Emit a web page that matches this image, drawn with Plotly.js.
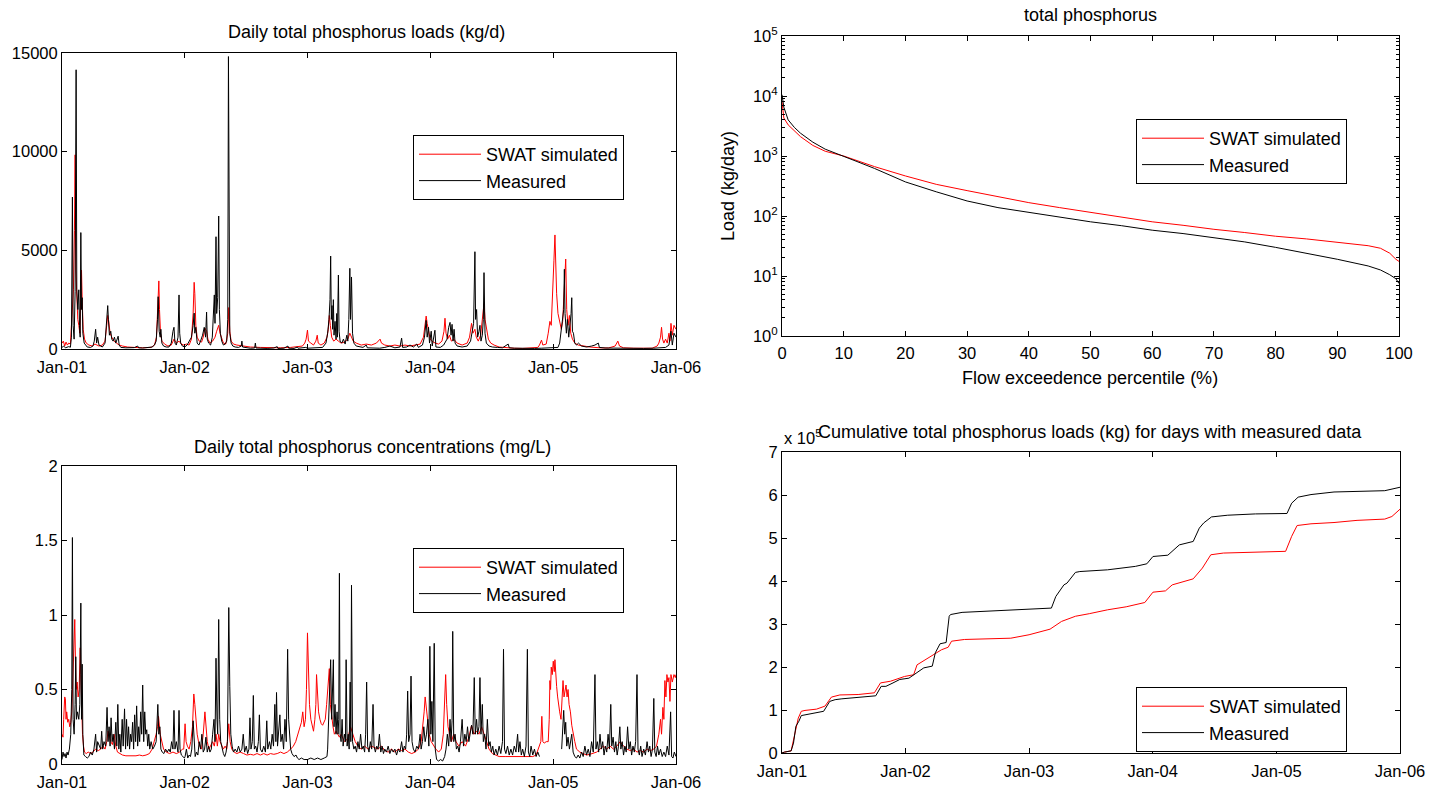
<!DOCTYPE html>
<html>
<head>
<meta charset="utf-8">
<script src="https://cdn.plot.ly/plotly-3.0.1.min.js"></script>
<style>html,body{margin:0;padding:0;background:#fff;}#chart{width:1434px;height:793px;}</style>
</head>
<body>
<div id="chart"></div>
<script>
// ---------------- DATA ----------------
// Day offsets are days since 2001-01-01.
const yearTicks = ['2001-01-01','2002-01-01','2003-01-01','2004-01-01','2005-01-01','2006-01-01'];
const yearLabels = ['Jan-01','Jan-02','Jan-03','Jan-04','Jan-05','Jan-06'];
const seriesNames = ['SWAT simulated','Measured'];

// Daily total phosphorus loads (kg/d), [day, value]
const loadSimulated = [[0,300],[4,400],[8,150],[12,350],[16,200],[20,300],[25,250],[30,1500],[34,3000],[37,6000],[39,9840],[41,4000],[44,2000],[47,1500],[50,1200],[53,800],[56,2800],[58,4000],[60,2500],[63,1000],[67,500],[72,300],[80,200],[90,150],[98,250],[104,200],[110,150],[120,200],[128,400],[133,1200],[136,1700],[139,1400],[143,800],[148,600],[155,400],[162,300],[170,200],[180,150],[195,100],[215,80],[240,60],[265,80],[275,200],[281,600],[285,2000],[288,3450],[290,2000],[293,800],[297,400],[305,250],[315,150],[325,200],[333,500],[340,300],[348,400],[355,250],[362,200],
[370,250],[378,200],[385,500],[390,1800],[393,3380],[395,2800],[398,1200],[402,600],[408,400],[415,350],[420,600],[425,1060],[430,900],[434,500],[440,300],[448,400],[455,600],[460,900],[466,1200],[470,800],[475,500],[480,300],[487,250],[493,800],[496,2100],[499,900],[503,400],[510,250],[520,200],[535,150],[560,100],[590,80],[620,60],[650,60],[680,80],[700,100],[715,150],[722,300],
[726,500],[730,960],[733,400],[740,300],[748,200],[755,400],[759,700],[762,300],[770,200],[780,300],[788,600],[792,1000],[795,1700],[798,1200],[802,600],[808,400],[815,500],[822,400],[830,300],[840,350],[850,500],[856,800],[860,600],[866,400],[875,300],[890,200],[905,250],[920,200],[935,300],[943,450],[946,500],[950,300],[960,200],[975,150],[990,200],[1005,150],[1020,200],[1035,150],[1050,200],[1065,250],[1075,600],
[1080,1200],[1083,1670],[1086,1300],[1090,900],[1095,500],[1100,400],[1110,300],[1120,250],[1130,400],[1136,900],[1139,1560],[1142,800],[1147,500],[1152,700],[1158,400],[1165,500],[1175,300],[1190,200],[1205,300],[1212,600],[1218,1300],[1222,800],[1228,1000],[1232,600],[1238,400],[1245,700],[1250,1500],[1255,2300],[1258,1500],[1263,1000],[1268,500],[1275,300],[1285,200],[1300,100],[1320,60],[1345,40],[1370,30],[1395,40],[1415,80],[1420,200],[1426,450],[1430,200],[1440,250],[1446,800],[1451,1400],[1455,1200],[1459,2500],[1463,4500],[1466,5780],[1469,3500],[1471,2800],[1475,1800],[1481,1200],[1485,1000],[1489,1400],[1492,2500],[1495,3500],[1498,4560],[1501,2000],[1505,1200],[1509,1700],[1513,800],[1518,500],[1525,300],[1535,200],[1550,150],[1570,100],[1600,60],[1625,50],[1645,150],[1653,400],[1658,150],[1670,60],[1700,40],[1730,30],[1755,40],[1770,150],[1775,300],[1780,600],[1783,1100],[1786,500],[1790,300],[1795,500],[1800,300],[1805,800],[1808,400],[1811,1300],[1815,700],[1820,1200],[1826,1000]];

const loadMeasured = [[0,80],[5,150],[10,60],[15,100],[20,120],[25,90],[28,600],[31,7700],[33,1200],[36,500],[39,2900],[42,14150],[44,3000],[47,2000],[50,3000],[52,1200],[54,600],[56,5900],[58,2000],[60,2600],[62,800],[66,300],[70,200],[75,100],[85,80],[92,150],[96,400],[100,1000],[103,300],[106,600],[110,200],[115,150],[120,100],[128,300],[133,1800],[136,2200],[138,1500],[141,700],[145,900],[148,500],[152,400],[156,600],[160,300],[163,500],[167,650],[170,200],[175,80],[190,60],[200,50],[215,70],[225,150],[228,60],[240,50],[255,80],[262,60],[268,100],[275,200],[280,400],[284,1500],[286,2650],[289,900],[292,600],[294,1000],[297,300],[302,150],[310,100],[318,100],[325,300],[330,900],[333,1100],[336,300],[340,200],[345,600],[348,2740],[350,800],[353,300],[358,150],[362,100],
[365,100],[372,200],[378,400],[385,600],[390,1200],[393,1820],[395,800],[398,1100],[402,300],[407,200],[412,400],[418,700],[423,1100],[427,600],[430,1870],[432,500],[436,300],[442,200],[447,600],[450,1400],[453,2740],[455,1300],[458,5690],[460,1800],[463,2600],[466,6740],[468,2000],[471,800],[475,400],[480,200],[485,250],[490,400],[493,1500],[495,14820],[497,3000],[499,800],[503,300],[508,150],[515,100],[525,80],[533,150],[535,400],[537,100],[550,60],[560,40],[573,50],[575,300],[577,50],[590,40],[610,30],[630,50],[640,120],[642,30],[660,40],[672,150],[674,40],[690,30],[700,100],[702,40],[715,50],[725,80],
[730,40],[745,50],[760,60],[775,80],[785,300],[790,800],[794,1500],[797,2500],[799,4710],[801,1500],[803,2200],[805,1000],[807,2500],[809,700],[812,1400],[815,500],[817,1800],[819,600],[822,3750],[824,900],[827,400],[832,300],[837,500],[842,250],[847,700],[850,400],[853,1500],[856,4090],[858,1500],[861,3650],[864,800],[868,300],[875,150],[885,100],[895,80],[905,200],[908,60],[925,50],[945,40],[960,80],[975,150],[990,60],[1005,100],[1010,550],[1013,80],[1025,100],[1035,200],[1045,100],[1055,250],[1060,80],[1072,200],[1078,600],[1083,1450],[1086,600],[1090,1100],[1093,300],[1098,900],[1101,150],[1109,950],[1112,100],[1125,80],[1135,200],[1145,500],[1150,1100],[1154,1350],[1157,700],[1160,1250],[1163,400],[1166,1000],[1169,300],[1175,150],[1190,100],[1205,150],[1215,400],[1220,900],[1224,1300],[1228,4930],[1230,1500],[1233,2000],[1236,600],[1240,900],[1243,1200],[1246,400],[1250,700],[1253,1500],[1255,3870],[1258,800],[1262,300],[1270,150],[1280,100],[1295,80],[1310,60],[1327,250],[1330,60],[1345,40],[1365,30],[1385,40],[1405,30],[1425,40],[1440,50],[1460,60],[1475,80],[1480,300],[1485,900],[1489,1500],[1492,2000],[1494,4040],[1496,1800],[1500,800],[1503,1500],[1507,600],[1511,1200],[1514,1800],[1516,2600],[1518,900],[1521,800],[1525,300],[1530,200],[1536,300],[1545,150],[1560,100],[1575,150],[1585,200],[1595,300],[1598,80],[1615,50],[1635,40],[1650,60],[1665,40],[1690,30],[1710,30],[1730,30],[1760,40],[1785,50],[1795,80],[1805,200],[1811,900],[1815,200],[1820,800],[1826,600]];

// Flow exceedence (load duration) curves: percentile (%) and load (kg/day)
const exceedPct = [0,0.3,1,2,3,5,7,10,12,15,20,25,30,35,40,45,50,55,60,65,70,75,80,85,90,95,97,98.5,99.5,100];
const durSimulated = [8000,4300,3300,2600,2100,1500,1200,1000,850,665,465,337,265,210,167,138,114,95,80,70,60,53,46,41.5,36.5,32,29,24,19,17.5];
const durMeasured = [10500,6500,4000,3000,2400,1700,1300,1000,820,620,370,253,178,138,114,95,80,69,58,51,43.6,37,30,24,19,14.7,12.6,10.5,9,7.5];
const logTickVals = [1,10,100,1000,10000,100000];
const logTickText = ['10<sup>0</sup>','10<sup>1</sup>','10<sup>2</sup>','10<sup>3</sup>','10<sup>4</sup>','10<sup>5</sup>'];

// Daily total phosphorus concentrations (mg/L), [day, value]
const concSimulated = [[0,0.2],[3,0.18],[5,0.3],[8,0.45],[10,0.44],[12,0.3],[14,0.35],[17,0.28],[20,0.3],[23,0.25],[26,0.28],[29,0.35],[32,0.6],[35,0.8],[38,0.97],[40,0.7],[42,0.5],[45,0.55],[48,0.45],[51,0.5],[54,0.78],[56,0.6],[58,0.4],[61,0.2],[64,0.12],[67,0.08],[72,0.07],[78,0.08],[85,0.07],[92,0.08],[100,0.1],[108,0.09],[115,0.1],[122,0.12],[128,0.1],[133,0.15],[137,0.22],[140,0.2],[145,0.15],[150,0.13],[155,0.2],[160,0.12],[165,0.08],[172,0.07],[180,0.06],[190,0.055],[200,0.055],[210,0.05],[220,0.055],[230,0.06],[240,0.055],[250,0.06],[260,0.07],[268,0.1],[275,0.15],[280,0.2],[284,0.25],[287,0.32],[292,0.2],[297,0.15],[302,0.1],[310,0.08],[320,0.07],[330,0.08],[340,0.07],[350,0.08],[358,0.1],
[362,0.1],[366,0.27],[369,0.15],[373,0.12],[378,0.1],[383,0.15],[388,0.25],[392,0.47],[395,0.4],[398,0.3],[402,0.2],[406,0.15],[410,0.12],[415,0.1],[420,0.2],[425,0.35],[428,0.25],[432,0.15],[437,0.1],[442,0.12],[448,0.15],[453,0.12],[458,0.2],[462,0.12],[466,0.2],[470,0.15],[475,0.12],[480,0.1],[485,0.12],[490,0.1],[496,0.27],[500,0.15],[505,0.1],[512,0.08],[520,0.07],[530,0.08],[540,0.07],[550,0.06],[560,0.065],[570,0.06],[580,0.07],[590,0.06],[600,0.07],[610,0.06],[620,0.07],[630,0.065],[640,0.07],[650,0.08],[660,0.07],[670,0.08],[680,0.1],[688,0.12],[695,0.15],[702,0.2],[708,0.25],[712,0.28],[716,0.35],[720,0.25],[724,0.3],[727,0.5],[730,0.88],[733,0.6],[736,0.4],[740,0.3],[744,0.25],[748,0.22],[752,0.3],[755,0.4],[757,0.6],[760,0.45],[763,0.35],[767,0.3],[771,0.27],[775,0.26],[779,0.28],[783,0.3],[787,0.4],[791,0.55],[795,0.64],[798,0.4],[802,0.3],[806,0.25],[810,0.2],[815,0.22],[820,0.2],[825,0.18],
[830,0.2],[840,0.15],[850,0.17],[858,0.25],[865,0.2],[872,0.15],[880,0.12],[890,0.1],[900,0.12],[910,0.1],[920,0.12],[930,0.11],[940,0.1],[950,0.12],[960,0.09],[970,0.08],[980,0.1],[990,0.08],[1000,0.1],[1010,0.09],[1020,0.1],[1030,0.08],[1040,0.07],[1050,0.08],[1060,0.1],[1068,0.15],[1073,0.25],[1077,0.35],[1080,0.45],[1083,0.38],[1087,0.3],[1092,0.2],[1098,0.15],[1105,0.12],[1112,0.1],[1120,0.08],[1128,0.1],[1134,0.2],[1138,0.4],[1141,0.6],[1144,0.4],[1148,0.25],[1153,0.2],[1158,0.15],[1165,0.2],[1172,0.15],[1180,0.12],[1190,0.15],[1200,0.12],[1210,0.18],[1218,0.26],[1225,0.2],[1232,0.22],[1240,0.2],[1248,0.25],[1255,0.2],[1262,0.15],[1270,0.1],[1280,0.07],[1290,0.06],[1300,0.05],[1320,0.05],[1340,0.05],[1360,0.05],[1380,0.05],[1400,0.05],[1410,0.06],[1416,0.1],[1420,0.13],[1424,0.15],[1427,0.32],[1430,0.15],[1434,0.14],[1440,0.15],[1446,0.15],[1449,0.3],[1451,0.56],[1453,0.5],[1455,0.65],[1458,0.6],[1461,0.69],[1464,0.62],[1466,0.7],[1468,0.6],[1471,0.52],[1474,0.45],[1477,0.39],[1480,0.35],[1484,0.3],[1487,0.4],[1490,0.56],[1493,0.45],[1496,0.5],[1499,0.53],[1502,0.45],[1505,0.5],[1508,0.4],[1512,0.35],[1516,0.26],[1520,0.2],[1525,0.15],[1530,0.1],[1540,0.08],[1550,0.07],[1560,0.06],[1570,0.065],[1580,0.07],[1590,0.08],[1600,0.1],[1610,0.12],[1620,0.1],[1630,0.12],[1640,0.1],[1650,0.12],[1660,0.15],[1670,0.12],[1680,0.1],[1690,0.09],[1700,0.1],[1710,0.08],[1720,0.09],[1730,0.08],[1740,0.1],[1750,0.09],[1760,0.1],[1768,0.12],[1775,0.2],[1780,0.3],[1783,0.2],[1787,0.38],[1790,0.3],[1793,0.56],[1796,0.45],[1799,0.6],[1802,0.55],[1805,0.58],[1808,0.42],[1811,0.6],[1815,0.55],[1820,0.6],[1824,0.58],[1826,0.6]];

const concMeasured = [[0,0.03],[3,0.08],[6,0.05],[9,0.07],[12,0.04],[15,0.08],[18,0.06],[22,0.1],[26,0.2],[29,0.5],[31,1.52],[33,0.3],[36,0.2],[39,0.4],[41,0.72],[43,0.3],[46,0.35],[48,0.3],[50,0.3],[53,0.4],[56,1.08],[58,0.3],[60,0.67],[62,0.2],[65,0.06],[70,0.05],[75,0.04],[80,0.05],[85,0.08],[90,0.06],[95,0.1],[100,0.2],[103,0.08],[106,0.15],[110,0.12],[115,0.1],[118,0.22],[121,0.1],[125,0.15],[130,0.12],[134,0.38],[137,0.15],[140,0.25],[143,0.12],[146,0.31],[149,0.15],[152,0.2],[156,0.1],[160,0.28],[163,0.12],[166,0.4],[169,0.1],[172,0.2],[175,0.08],[179,0.3],[182,0.12],[186,0.37],[189,0.1],[192,0.3],[195,0.12],[198,0.25],[201,0.1],[204,0.2],[207,0.15],[210,0.28],[213,0.1],[216,0.33],[219,0.15],[222,0.39],[225,0.12],[228,0.25],[231,0.15],[234,0.35],[237,0.2],[240,0.53],[243,0.15],[246,0.35],[249,0.2],[252,0.23],[255,0.12],[258,0.2],[261,0.1],[265,0.15],[270,0.1],[275,0.12],[280,0.15],[285,0.4],[288,0.2],[291,0.25],[294,0.1],[298,0.08],[303,0.07],[308,0.1],[313,0.08],[318,0.1],[322,0.08],[326,0.15],[330,0.1],[333,0.36],[336,0.1],[340,0.15],[345,0.08],[348,0.36],[351,0.1],[355,0.06],[360,0.05],[364,0.04],
[366,0.05],[370,0.1],[374,0.04],[378,0.06],[382,0.05],[386,0.1],[390,0.29],[393,0.1],[396,0.05],[400,0.08],[404,0.06],[408,0.15],[412,0.1],[416,0.2],[420,0.08],[424,0.1],[428,0.18],[432,0.08],[436,0.12],[440,0.08],[444,0.1],[448,0.2],[452,0.3],[455,0.15],[458,0.71],[461,0.3],[463,0.2],[466,0.97],[469,0.3],[472,0.15],[476,0.1],[480,0.07],[484,0.05],[488,0.08],[492,0.15],[496,1.05],[499,0.52],[502,0.2],[506,0.12],[510,0.08],[515,0.1],[520,0.08],[525,0.12],[530,0.08],[535,0.1],[539,0.2],[543,0.08],[548,0.12],[552,0.07],[556,0.1],[559,0.31],[562,0.1],[566,0.15],[569,0.46],[572,0.1],[576,0.12],[580,0.08],[584,0.15],[587,0.33],[590,0.1],[595,0.08],[600,0.12],[605,0.08],[609,0.29],[612,0.1],[617,0.15],[621,0.1],[625,0.2],[629,0.12],[633,0.4],[636,0.15],[638,0.48],[641,0.12],[645,0.25],[648,0.33],[651,0.15],[655,0.2],[659,0.1],[663,0.3],[667,0.15],[671,0.77],[674,0.3],[677,0.15],[680,0.1],[684,0.07],[690,0.05],[696,0.06],[700,0.04],[705,0.03],[712,0.04],[720,0.03],[730,0.03],[740,0.04],[750,0.03],[760,0.04],[770,0.03],[780,0.04],[788,0.05],
[790,0.1],[793,0.3],[796,0.4],[799,0.7],[802,0.3],[805,0.5],[807,0.7],[809,0.25],[812,0.4],[815,0.2],[818,0.35],[821,0.2],[823,0.3],[825,1.28],[827,0.2],[830,0.15],[833,0.3],[836,0.12],[840,0.2],[843,0.15],[845,0.7],[848,0.12],[851,0.2],[854,0.1],[857,0.55],[859,0.15],[861,1.2],[864,0.15],[868,0.1],[872,0.12],[876,0.08],[880,0.15],[884,0.1],[888,0.2],[892,0.1],[896,0.12],[900,0.08],[903,0.2],[906,0.55],[909,0.12],[913,0.08],[917,0.15],[921,0.1],[925,0.4],[928,0.12],[932,0.08],[936,0.12],[940,0.1],[944,0.2],[948,0.08],[952,0.12],[956,0.07],[960,0.1],[965,0.08],[970,0.12],[975,0.07],[980,0.1],[985,0.08],[990,0.1],[995,0.06],[1000,0.1],[1005,0.08],[1010,0.15],[1014,0.08],[1018,0.12],[1022,0.1],[1025,0.2],[1028,0.49],[1031,0.15],[1035,0.2],[1038,0.59],[1041,0.15],[1045,0.1],[1050,0.08],[1055,0.12],[1060,0.1],[1065,0.2],[1068,0.1],[1072,0.15],[1076,0.25],[1080,0.15],[1084,0.2],[1088,0.3],[1091,0.12],[1094,0.79],[1097,0.2],[1100,0.42],[1103,0.15],[1107,0.81],[1110,0.1],[1114,0.03],[1120,0.02],[1126,0.03],[1132,0.02],[1138,0.05],
[1142,0.1],[1146,0.2],[1150,0.12],[1154,0.3],[1157,0.15],[1160,0.29],[1162,0.89],[1165,0.15],[1169,0.2],[1173,0.1],[1177,0.12],[1181,0.08],[1185,0.15],[1190,0.3],[1194,0.12],[1198,0.2],[1202,0.15],[1206,0.25],[1210,0.15],[1214,0.2],[1218,0.26],[1222,0.2],[1226,0.58],[1229,0.2],[1233,0.3],[1236,0.2],[1240,0.25],[1243,0.58],[1246,0.2],[1250,0.4],[1253,0.15],[1257,0.2],[1261,0.1],[1265,0.3],[1269,0.12],[1273,0.15],[1277,0.08],[1281,0.12],[1285,0.06],[1290,0.1],[1295,0.06],[1300,0.12],[1305,0.07],[1310,0.15],[1313,0.77],[1316,0.1],[1320,0.07],[1325,0.12],[1330,0.06],[1335,0.1],[1340,0.06],[1345,0.12],[1350,0.08],[1355,0.2],[1358,0.08],[1362,0.15],[1366,0.06],[1370,0.1],[1375,0.05],[1380,0.12],[1384,0.77],[1387,0.08],[1391,0.05],[1395,0.12],[1400,0.06],[1405,0.1],[1410,0.05],[1415,0.08],[1420,0.05],[1450,null],
[1486,0.1],[1489,0.25],[1492,0.36],[1495,0.2],[1498,0.28],[1501,0.12],[1505,0.18],[1509,0.1],[1513,0.15],[1516,0.2],[1520,0.08],[1525,0.05],[1530,0.04],[1535,0.06],[1540,0.04],[1545,0.08],[1550,0.05],[1555,0.12],[1560,0.06],[1565,0.1],[1570,0.05],[1575,0.15],[1580,0.08],[1585,0.6],[1588,0.1],[1592,0.15],[1596,0.08],[1600,0.2],[1604,0.1],[1608,0.15],[1612,0.06],[1616,0.12],[1620,0.08],[1624,0.2],[1628,0.1],[1632,0.4],[1635,0.12],[1639,0.18],[1643,0.08],[1647,0.15],[1651,0.06],[1655,0.12],[1659,0.25],[1662,0.1],[1666,0.15],[1670,0.06],[1674,0.12],[1678,0.08],[1682,0.25],[1686,0.1],[1690,0.15],[1694,0.06],[1698,0.12],[1702,0.08],[1706,0.15],[1710,0.6],[1713,0.1],[1717,0.06],[1721,0.12],[1725,0.05],[1730,0.1],[1735,0.06],[1740,0.15],[1744,0.08],[1748,0.12],[1752,0.05],[1756,0.1],[1760,0.44],[1763,0.08],[1767,0.05],[1771,0.12],[1775,0.06],[1780,0.1],[1785,0.05],[1790,0.08],[1795,0.05],[1800,0.12],[1805,0.06],[1810,0.35],[1813,0.05],[1817,0.04],[1821,0.08],[1826,0.05]];

// Cumulative total phosphorus loads (units of 10^5 kg), [day, value]
const cumSimulated = [[0,0],[7,0.02],[27,0.05],[41,0.58],[48,0.81],[57,0.97],[68,0.99],[102,1.02],[127,1.09],[146,1.30],[171,1.35],[225,1.36],[273,1.40],[291,1.63],[321,1.67],[362,1.78],[389,1.82],[399,2.05],[423,2.17],[450,2.29],[471,2.40],[491,2.46],[501,2.60],[539,2.64],[607,2.66],[676,2.67],[730,2.75],[792,2.88],[826,3.06],[867,3.18],[908,3.24],[962,3.33],[1017,3.40],[1072,3.50],[1096,3.74],[1133,3.77],[1153,3.91],[1181,3.98],[1215,4.05],[1242,4.30],[1267,4.61],[1304,4.65],[1385,4.67],[1488,4.69],[1506,5.04],[1522,5.29],[1563,5.33],[1631,5.36],[1699,5.41],[1781,5.44],[1802,5.50],[1826,5.67]];
const cumMeasured = [[0,0],[7,0.02],[27,0.05],[34,0.23],[41,0.62],[50,0.74],[57,0.87],[102,0.95],[123,0.97],[141,1.20],[157,1.24],[177,1.26],[239,1.30],[277,1.33],[293,1.55],[307,1.55],[328,1.63],[348,1.71],[375,1.74],[396,1.86],[419,1.98],[444,2.02],[453,2.33],[467,2.54],[485,2.57],[494,3.18],[498,3.22],[532,3.27],[580,3.29],[662,3.32],[744,3.35],[796,3.37],[809,3.64],[833,3.91],[842,3.95],[867,4.20],[880,4.22],[962,4.26],[1044,4.34],[1078,4.40],[1096,4.57],[1140,4.60],[1174,4.84],[1215,4.92],[1233,5.23],[1246,5.35],[1269,5.49],[1317,5.53],[1399,5.56],[1492,5.57],[1506,5.81],[1525,5.95],[1563,6.01],[1631,6.07],[1781,6.10],[1809,6.16],[1826,6.18]];

// ---------------- DRAWING ----------------
const START = Date.UTC(2001, 0, 1);
function dayToDate(d) { return new Date(START + d * 86400000).toISOString().slice(0, 10); }
function xs(p) { return p.map(r => dayToDate(r[0])); }
function ys(p) { return p.map(r => r[1]); }

const FONT = "'Liberation Sans', Arial, Helvetica, sans-serif";
const RED = '#ff0000', BLACK = '#000000';
const W = 1434, H = 793;
const px = v => v / W, py = v => 1 - v / H;

function ln(color) { return {color: color, width: 1}; }
const traces = [
  {type:'scatter', mode:'lines', name:seriesNames[0], x:xs(loadSimulated), y:ys(loadSimulated), xaxis:'x', yaxis:'y', line:ln(RED), legend:'legend'},
  {type:'scatter', mode:'lines', name:seriesNames[1], x:xs(loadMeasured), y:ys(loadMeasured), xaxis:'x', yaxis:'y', line:ln(BLACK), legend:'legend'},
  {type:'scatter', mode:'lines', name:seriesNames[0], x:exceedPct, y:durSimulated, xaxis:'x2', yaxis:'y2', line:ln(RED), legend:'legend2'},
  {type:'scatter', mode:'lines', name:seriesNames[1], x:exceedPct, y:durMeasured, xaxis:'x2', yaxis:'y2', line:ln(BLACK), legend:'legend2'},
  {type:'scatter', mode:'lines', name:seriesNames[0], x:xs(concSimulated), y:ys(concSimulated), xaxis:'x3', yaxis:'y3', line:ln(RED), legend:'legend3'},
  {type:'scatter', mode:'lines', name:seriesNames[1], x:xs(concMeasured), y:ys(concMeasured), xaxis:'x3', yaxis:'y3', line:ln(BLACK), legend:'legend3', connectgaps:false},
  {type:'scatter', mode:'lines', name:seriesNames[0], x:xs(cumSimulated), y:ys(cumSimulated), xaxis:'x4', yaxis:'y4', line:ln(RED), legend:'legend4'},
  {type:'scatter', mode:'lines', name:seriesNames[1], x:xs(cumMeasured), y:ys(cumMeasured), xaxis:'x4', yaxis:'y4', line:ln(BLACK), legend:'legend4'}
];

const tickFont = {family: FONT, size: 16.5, color: '#000'};
function baseAxis(extra) {
  return Object.assign({
    showline: true, linecolor: '#000', linewidth: 1, mirror: 'ticks',
    ticks: 'inside', ticklen: 5, tickcolor: '#000', tickwidth: 1,
    showgrid: false, zeroline: false, tickfont: tickFont, fixedrange: true
  }, extra);
}
function dateAxis(domain, anchor) {
  return baseAxis({type:'date', domain: domain, anchor: anchor,
    range: [yearTicks[0], yearTicks[yearTicks.length-1]],
    tickmode:'array', tickvals: yearTicks, ticktext: yearLabels, ticklabelstandoff: 3});
}
function legendAt(left, top) {
  return {x: px(left), y: py(top), xref:'paper', yref:'paper', xanchor:'left', yanchor:'top',
    bgcolor:'#fff', bordercolor:'#000', borderwidth:1,
    font:{family: FONT, size: 18, color:'#000'}, itemwidth: 62, tracegroupgap: 0};
}

const xL = [px(62), px(676)], xR = [px(782), px(1399)];
const layout = {
  width: W, height: H, margin: {l:0, r:0, t:0, b:0},
  paper_bgcolor: '#fff', plot_bgcolor: '#fff',
  font: {family: FONT, color: '#000'},
  showlegend: true,
  xaxis: dateAxis(xL, 'y'),
  yaxis: baseAxis({domain: [py(349), py(53)], anchor: 'x', range: [0, 15000], tickmode:'array', tickvals:[0,5000,10000,15000], tickformat:'d'}),
  xaxis2: baseAxis({domain: xR, anchor: 'y2', range: [0, 100], dtick: 10, tick0: 0, ticklabelstandoff: 2}),
  yaxis2: baseAxis({domain: [py(336), py(36)], anchor: 'x2', type: 'log', range: [0, 5],
    tickmode:'array', tickvals: logTickVals, ticktext: logTickText,
    minor: {ticks:'inside', ticklen: 3, tickcolor:'#000', dtick:'D1', showgrid:false}}),
  xaxis3: dateAxis(xL, 'y3'),
  yaxis3: baseAxis({domain: [py(764), py(466)], anchor: 'x3', range: [0, 2], dtick: 0.5, tick0: 0}),
  xaxis4: dateAxis([px(782), px(1400)], 'y4'),
  yaxis4: baseAxis({domain: [py(753), py(452)], anchor: 'x4', range: [0, 7], dtick: 1, tick0: 0}),
  legend: legendAt(413, 135),
  legend2: legendAt(1136, 119),
  legend3: legendAt(413, 548),
  legend4: legendAt(1136, 687),
  annotations: [
    {text:'Daily total phosphorus loads (kg/d)', x: px(367), y: py(32)},
    {text:'total phosphorus', x: px(1090), y: py(15)},
    {text:'Flow exceedence percentile (%)', x: px(1090), y: py(378)},
    {text:'Load (kg/day)', x: px(728), y: py(186), textangle: -90},
    {text:'Daily total phosphorus concentrations (mg/L)', x: px(372), y: py(447)},
    {text:'Cumulative total phosphorus loads (kg) for days with measured data', x: px(1090), y: py(432)},
    {text:'x 10<sup>5</sup>', x: px(782), y: py(437), xanchor:'left', font:{family: FONT, size: 16.5, color:'#000'}}
  ].map(a => Object.assign({xref:'paper', yref:'paper', showarrow:false, xanchor:'center', yanchor:'middle',
    font:{family: FONT, size: 18, color:'#000'}}, a))
};

Plotly.newPlot('chart', traces, layout, {staticPlot: true, displayModeBar: false});
</script>
</body>
</html>
